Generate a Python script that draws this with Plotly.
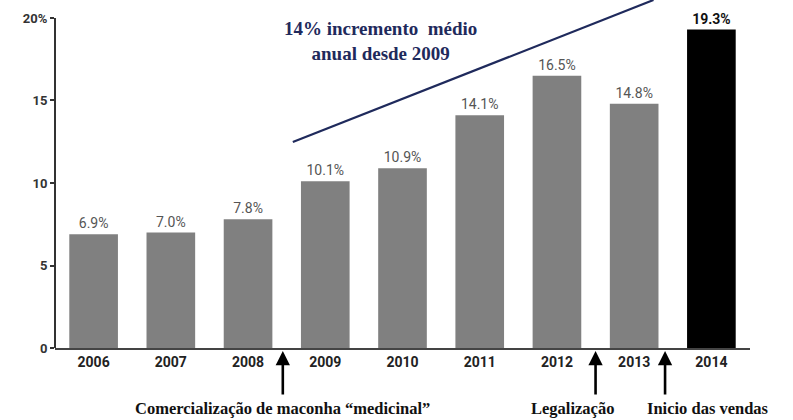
import plotly.graph_objects as go

# Share of adults (%) by year
years = ["2006", "2007", "2008", "2009", "2010", "2011", "2012", "2013", "2014"]
values = [6.9, 7.0, 7.8, 10.1, 10.9, 14.1, 16.5, 14.8, 19.3]
bar_colors = ["#808080"] * 8 + ["#000000"]
label_colors = ["#555555"] * 8 + ["#111111"]

y_tickvals = [0, 5, 10, 15, 20]
y_ticktext = ["0", "5", "10", "15", "20%"]

# Trend line endpoints (category index, value)
trend_x = [2.58, 7.25]
trend_y = [12.48, 21.09]

# Event markers: arrow position (category index), label position, label text
events_x = [2.45, 6.5, 7.4]
event_labels = ["Comercialização de maconha “medicinal”", "Legalização", "Inicio das vendas"]
event_label_x = [2.45, 6.2, 7.95]

labels = [f"<b>{v:.1f}%</b>" if i == len(values) - 1 else f"{v:.1f}%" for i, v in enumerate(values)]

fig = go.Figure()
fig.add_trace(go.Bar(
    x=list(range(len(years))), y=values,
    marker=dict(color=bar_colors, line=dict(width=0)),
    text=labels, textposition="outside", cliponaxis=False,
    textfont=dict(family="Roboto", size=14, color=label_colors),
    hoverinfo="skip",
))

fig.add_trace(go.Scatter(
    x=trend_x, y=trend_y, mode="lines",
    line=dict(color="#1f2a5c", width=2.2), hoverinfo="skip",
))

shapes = [
    # vertical axis line, stopping at 20%
    dict(type="line", xref="paper", yref="y", x0=0, x1=0, y0=0, y1=20,
         line=dict(color="#333333", width=2)),
]

annotations = [
    dict(text="<b>14% incremento  médio<br>anual desde 2009</b>",
         xref="x", yref="paper", x=3.72, y=0.882, showarrow=False,
         font=dict(family="Liberation Serif", size=19, color="#1f2a5c"),
         align="center", xanchor="center", yanchor="middle"),
]
for ex in events_x:
    annotations.append(dict(
        text="", xref="x", yref="y", x=ex, y=0, ax=0, ay=48,
        showarrow=True, arrowhead=2, arrowsize=1.1, arrowwidth=2.6,
        arrowcolor="#000000", standoff=3,
    ))
for lx, lt in zip(event_label_x, event_labels):
    annotations.append(dict(
        text=f"<b>{lt}</b>", xref="x", yref="paper", x=lx, y=-0.175,
        showarrow=False, xanchor="center", yanchor="middle",
        font=dict(family="Liberation Serif", size=16.5, color="#111111"),
    ))

fig.update_layout(
    width=793, height=420,
    margin=dict(l=55, r=43, t=0, b=72),
    paper_bgcolor="white", plot_bgcolor="white",
    showlegend=False, bargap=0.37,
    shapes=shapes, annotations=annotations,
    xaxis=dict(
        range=[-0.5, 8.5], tickmode="array",
        tickvals=list(range(len(years))), ticktext=[f"<b>{y}</b>" for y in years],
        tickfont=dict(family="Roboto", size=14, color="#222222"),
        showline=True, linecolor="#444444", linewidth=2,
        showgrid=False, zeroline=False, ticks="", fixedrange=True,
    ),
    yaxis=dict(
        range=[0, 21.09], tickmode="array",
        tickvals=y_tickvals, ticktext=[f"<b>{t}</b>" for t in y_ticktext],
        tickfont=dict(family="Roboto", size=13, color="#333333"),
        ticks="outside", ticklen=4, tickwidth=1.5, tickcolor="#333333",
        showline=False, showgrid=False, zeroline=False, fixedrange=True,
    ),
)

fig.write_html("out.html")
